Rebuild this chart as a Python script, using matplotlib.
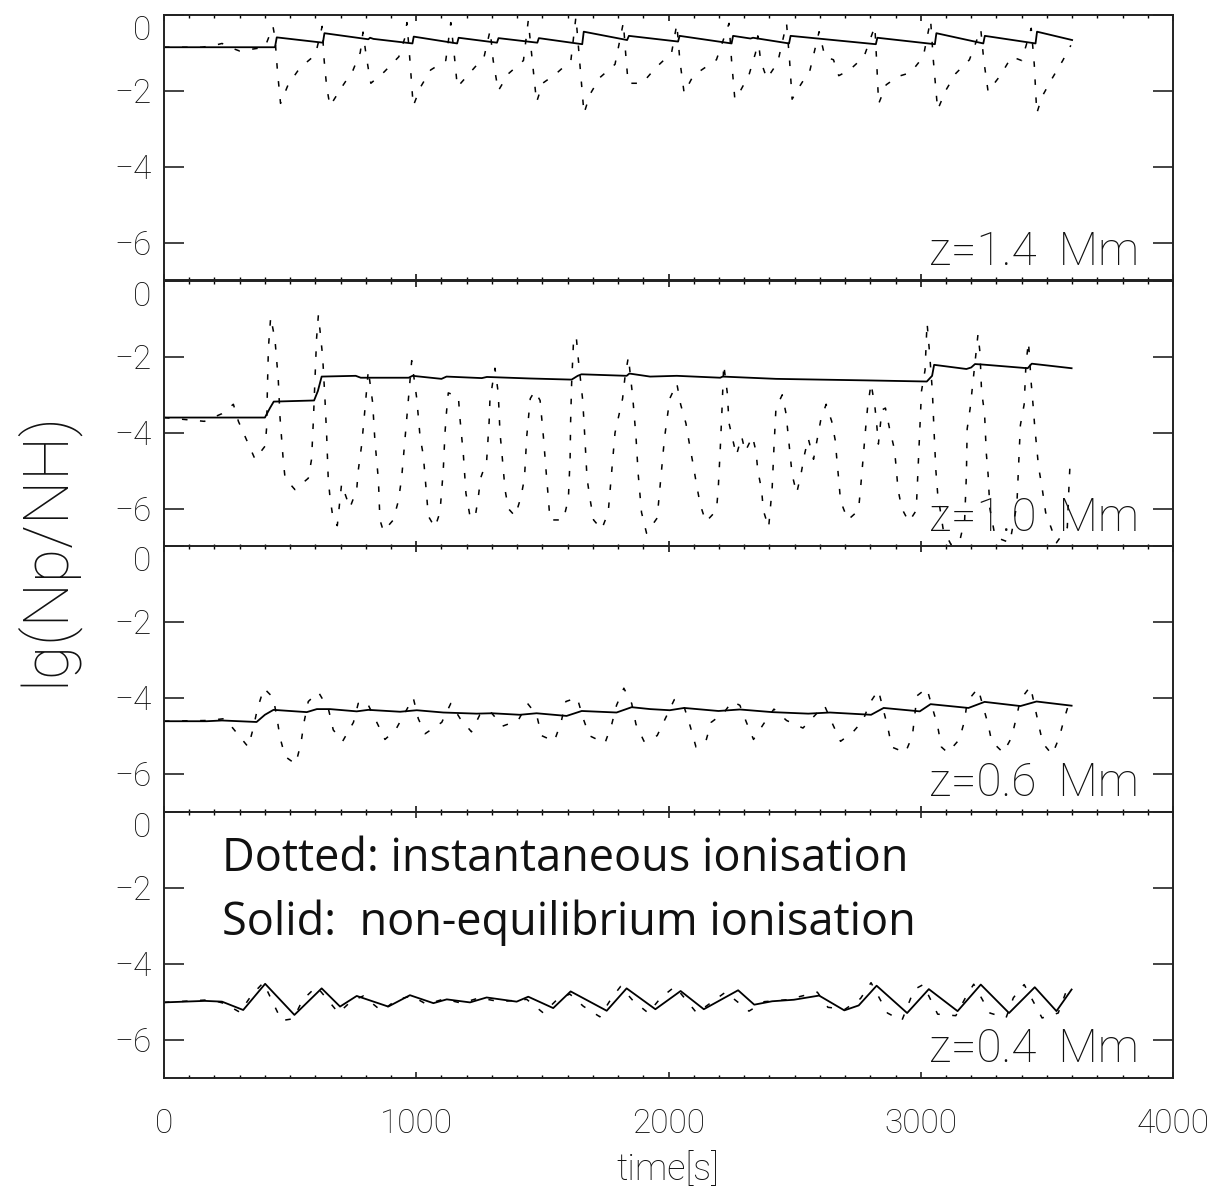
import matplotlib
matplotlib.use("Agg")
import matplotlib.pyplot as plt
from matplotlib.ticker import MultipleLocator

plt.rcParams['lines.scale_dashes'] = False

# ---------------- data ----------------
panel_labels = ["z=1.4  Mm", "z=1.0  Mm", "z=0.6  Mm", "z=0.4  Mm"]
ytick_values = [0, -2, -4, -6]
ytick_labels = ["0", "\u22122", "\u22124", "\u22126"]
xtick_values = [0, 1000, 2000, 3000, 4000]
xtick_labels = ["0", "1000", "2000", "3000", "4000"]

# z = 1.4 Mm
t_sol_14 = [0, 440, 447, 630, 636, 810, 817, 830, 985, 990, 1162, 1168, 1320, 1326, 1480, 1486,
            1658, 1664, 1836, 1843, 2038, 2044, 2250, 2256, 2325, 2335, 2478, 2484, 2822, 2828,
            3056, 3062, 3248, 3254, 3455, 3461, 3600]
y_sol_14 = [-0.85, -0.85, -0.59, -0.73, -0.48, -0.64, -0.6, -0.63, -0.75, -0.57, -0.75, -0.6, -0.73, -0.61,
            -0.73, -0.61, -0.77, -0.44, -0.66, -0.55, -0.7, -0.55, -0.75, -0.55, -0.62, -0.6, -0.75, -0.55,
            -0.77, -0.6, -0.77, -0.48, -0.75, -0.55, -0.75, -0.44, -0.66]
t_dot_14 = [0, 150, 200, 230, 260, 300, 350, 400, 432, 440, 450, 462, 492, 538, 600, 620, 627, 635, 645,
            658, 705, 749, 778, 789, 800, 812, 820, 873, 931, 955, 963, 975, 988, 1017, 1057, 1117, 1137,
            1150, 1163, 1216, 1269, 1293, 1305, 1325, 1365, 1425, 1444, 1460, 1477, 1501, 1554, 1613, 1633,
            1645, 1665, 1688, 1728, 1788, 1821, 1830, 1840, 1896, 1948, 2012, 2033, 2045, 2062, 2098, 2190,
            2240, 2250, 2263, 2280, 2319, 2345, 2354, 2365, 2390, 2433, 2468, 2480, 2490, 2518, 2561, 2597,
            2620, 2654, 2675, 2718, 2775, 2818, 2825, 2833, 2863, 2910, 2960, 3010, 3039, 3050, 3067, 3099,
            3139, 3193, 3238, 3250, 3267, 3317, 3360, 3400, 3438, 3450, 3460, 3481, 3521, 3563, 3595]
y_dot_14 = [-0.85, -0.85, -0.8, -0.75, -0.85, -0.95, -0.9, -0.85, -0.3, -0.6, -1.5, -2.33, -1.84, -1.4, -1.05,
            -0.5, -0.3, -1.2, -1.9, -2.4, -1.9, -1.46, -0.99, -0.45, -1.0, -1.5, -1.8, -1.5, -1.1, -0.6, -0.2,
            -1.2, -2.4, -1.9, -1.45, -1.2, -0.2, -1.0, -1.9, -1.5, -1.1, -0.4, -1.2, -2.0, -1.55, -1.2, -0.15,
            -1.2, -2.3, -1.8, -1.55, -1.2, -0.05, -1.0, -2.6, -2.1, -1.65, -1.3, -0.2, -1.0, -1.8, -1.8, -1.4,
            -1.0, -0.24, -1.2, -2.06, -1.6, -1.18, -0.22, -1.2, -2.22, -2.06, -1.58, -1.0, -0.55, -1.2, -1.68,
            -1.25, -0.22, -1.2, -2.22, -1.9, -1.45, -0.44, -1.1, -1.18, -1.6, -1.45, -1.1, -0.3, -1.2, -2.34,
            -1.84, -1.62, -1.52, -1.1, -0.13, -1.2, -2.5, -1.99, -1.54, -1.18, -0.38, -1.2, -2.02, -1.58, -1.1,
            -1.2, -0.35, -1.3, -2.59, -2.15, -1.67, -1.2, -0.8]

# z = 1.0 Mm
t_sol_10 = [0, 400, 420, 435, 595, 610, 625, 760, 780, 970, 985, 1100, 1120, 1260, 1280, 1450, 1616, 1640,
            1655, 1834, 1845, 1927, 2033, 2205, 2215, 2426, 2600, 2782, 3024, 3045, 3053, 3181, 3200, 3215,
            3240, 3424, 3440, 3598]
y_sol_10 = [-3.6, -3.6, -3.35, -3.18, -3.15, -2.9, -2.52, -2.5, -2.55, -2.55, -2.5, -2.58, -2.52, -2.56, -2.53,
            -2.57, -2.6, -2.5, -2.46, -2.5, -2.44, -2.52, -2.5, -2.55, -2.52, -2.58, -2.6, -2.62, -2.65, -2.5,
            -2.21, -2.32, -2.28, -2.19, -2.2, -2.3, -2.18, -2.3]
t_dot_10 = [0, 160, 229, 275, 295, 328, 361, 401, 407, 410, 414, 423, 440, 447, 453, 460, 467, 473, 480, 519,
            572, 585, 592, 599, 605, 612, 620, 629, 638, 645, 651, 658, 671, 687, 704, 737, 764, 770, 784, 797,
            810, 827, 836, 850, 856, 870, 909, 929, 942, 955, 969, 982, 1002, 1015, 1028, 1041, 1048, 1074,
            1094, 1107, 1114, 1120, 1127, 1167, 1173, 1187, 1197, 1213, 1233, 1246, 1255, 1279, 1289, 1292,
            1312, 1325, 1332, 1339, 1352, 1365, 1392, 1415, 1429, 1438, 1452, 1470, 1491, 1504, 1517, 1524,
            1530, 1583, 1603, 1610, 1612, 1616, 1623, 1634, 1643, 1660, 1669, 1677, 1689, 1703, 1735, 1761,
            1774, 1788, 1818, 1828, 1841, 1858, 1871, 1880, 1893, 1913, 1955, 1969, 1984, 2005, 2033, 2048,
            2069, 2083, 2098, 2112, 2126, 2148, 2190, 2197, 2205, 2212, 2219, 2233, 2240, 2269, 2290, 2304,
            2333, 2347, 2354, 2369, 2376, 2397, 2411, 2418, 2426, 2451, 2466, 2475, 2490, 2508, 2525, 2540,
            2554, 2575, 2604, 2625, 2647, 2661, 2668, 2675, 2682, 2711, 2753, 2761, 2768, 2775, 2782, 2789,
            2803, 2818, 2825, 2832, 2846, 2860, 2875, 2896, 2903, 2910, 2925, 2953, 2982, 2989, 2996, 3003,
            3017, 3025, 3035, 3046, 3053, 3060, 3067, 3089, 3120, 3153, 3174, 3181, 3184, 3196, 3227, 3235,
            3241, 3253, 3260, 3267, 3274, 3295, 3353, 3381, 3388, 3395, 3410, 3417, 3427, 3438, 3445, 3452,
            3460, 3467, 3481, 3495, 3538, 3581, 3588, 3592]
y_dot_10 = [-3.6, -3.7, -3.5, -3.25, -3.7, -4.2, -4.7, -4.35, -3.85, -2.8, -1.75, -0.95, -1.55, -2.1, -2.6,
            -3.6, -4.2, -4.75, -5.2, -5.5, -5.2, -4.7, -3.7, -2.5, -1.5, -0.9, -1.4, -2.0, -3.1, -4.1, -5.2,
            -5.7, -6.3, -6.45, -5.35, -5.98, -5.5, -5.0, -4.3, -3.35, -2.35, -3.2, -4.2, -5.25, -6.3, -6.6,
            -6.3, -5.8, -5.2, -4.2, -3.15, -2.1, -3.1, -4.1, -4.6, -5.65, -6.2, -6.5, -6.1, -5.0, -4.0, -3.45,
            -2.95, -3.05, -3.6, -4.6, -5.6, -6.2, -6.25, -5.7, -5.2, -4.75, -3.7, -3.15, -2.3, -2.95, -4.0,
            -4.5, -5.5, -6.0, -6.2, -5.7, -5.2, -4.1, -3.1, -2.9, -3.15, -4.1, -5.2, -5.75, -6.3, -6.3, -5.75,
            -4.65, -3.7, -2.7, -1.65, -1.45, -2.1, -3.15, -4.2, -5.2, -5.75, -6.3, -6.55, -6.1, -5.1, -4.0,
            -3.1, -2.5, -2.0, -3.05, -4.1, -5.1, -6.1, -6.65, -6.25, -5.25, -4.15, -3.1, -2.7, -3.25, -3.75,
            -4.3, -4.85, -5.4, -5.9, -6.35, -6.05, -5.5, -4.45, -3.4, -2.2, -2.95, -3.75, -4.6, -4.1, -4.5,
            -4.1, -4.5, -5.0, -5.5, -6.05, -6.5, -5.45, -4.4, -3.35, -3.0, -3.5, -4.1, -5.1, -5.6, -5.1, -4.55,
            -4.15, -4.7, -3.65, -3.25, -3.7, -4.2, -4.75, -5.25, -5.8, -6.3, -6.05, -5.5, -4.95, -4.4, -3.85,
            -3.35, -2.7, -3.3, -3.75, -4.3, -3.4, -3.35, -3.85, -4.45, -4.95, -5.5, -6.0, -6.35, -6.05, -5.0,
            -3.95, -2.9, -2.35, -1.1, -1.9, -2.9, -4.0, -5.0, -5.6, -6.55, -6.95, -6.9, -6.3, -5.1, -3.9,
            -3.35, -1.4, -1.9, -2.9, -3.5, -4.55, -5.1, -6.0, -6.75, -6.9, -5.9, -4.85, -3.8, -3.25, -2.2,
            -1.6, -2.7, -3.25, -3.85, -4.4, -4.9, -5.45, -6.1, -6.9, -6.5, -5.35, -4.8]

# z = 0.6 Mm
t_sol_06 = [0, 169, 230, 367, 400, 434, 566, 606, 658, 764, 810, 936, 1002, 1107, 1239, 1300, 1411, 1477,
            1596, 1656, 1794, 1854, 1927, 2005, 2062, 2198, 2283, 2411, 2554, 2640, 2803, 2853, 2996, 3039,
            3189, 3253, 3395, 3459, 3598]
y_sol_06 = [-4.62, -4.62, -4.6, -4.64, -4.45, -4.32, -4.38, -4.3, -4.3, -4.36, -4.32, -4.37, -4.33, -4.39,
            -4.42, -4.41, -4.45, -4.41, -4.48, -4.35, -4.39, -4.25, -4.3, -4.33, -4.27, -4.35, -4.31, -4.38,
            -4.42, -4.39, -4.45, -4.27, -4.36, -4.17, -4.27, -4.11, -4.22, -4.1, -4.21]
t_dot_06 = [0, 176, 242, 291, 334, 354, 370, 396, 433, 447, 460, 480, 522, 543, 555, 572, 612, 652, 671, 708,
            751, 770, 803, 840, 876, 918, 988, 1008, 1035, 1101, 1137, 1174, 1219, 1252, 1292, 1342, 1404,
            1441, 1477, 1497, 1547, 1574, 1593, 1638, 1662, 1686, 1748, 1775, 1794, 1823, 1854, 1871, 1903,
            1955, 1991, 2023, 2060, 2086, 2109, 2148, 2169, 2219, 2252, 2283, 2309, 2337, 2376, 2418, 2468,
            2533, 2618, 2651, 2682, 2732, 2771, 2797, 2832, 2870, 2885, 2939, 2967, 2985, 3024, 3067, 3082,
            3107, 3153, 3174, 3184, 3227, 3267, 3281, 3327, 3360, 3378, 3395, 3435, 3467, 3484, 3521, 3549,
            3569, 3592]
y_dot_06 = [-4.62, -4.6, -4.55, -4.95, -5.3, -4.8, -4.3, -3.75, -4.0, -4.5, -5.05, -5.55, -5.75, -5.2, -4.65,
            -4.1, -3.85, -4.3, -4.85, -5.15, -4.65, -4.15, -4.1, -4.6, -5.1, -4.85, -4.0, -4.55, -4.95, -4.65,
            -4.15, -4.55, -4.9, -4.45, -4.35, -4.75, -4.6, -4.15, -4.45, -5.0, -5.15, -4.65, -4.1, -4.0,
            -4.55, -5.0, -5.2, -4.7, -4.2, -3.75, -4.15, -4.7, -5.15, -5.0, -4.5, -4.05, -4.2, -4.75, -5.3,
            -5.15, -4.65, -4.4, -4.1, -4.2, -4.65, -5.1, -4.7, -4.3, -4.6, -4.8, -4.2, -4.7, -5.15, -4.9,
            -4.6, -4.15, -3.8, -4.8, -5.3, -5.45, -5.0, -3.95, -3.75, -4.75, -5.3, -5.45, -5.1, -4.6, -4.1,
            -3.75, -4.7, -5.15, -5.45, -5.05, -4.55, -4.05, -3.7, -4.7, -5.2, -5.5, -5.05, -4.55, -4.05]

# z = 0.4 Mm
t_sol_04 = [0, 162, 230, 314, 401, 517, 625, 698, 764, 889, 975, 1068, 1121, 1213, 1279, 1398, 1444, 1543,
            1612, 1755, 1834, 1948, 2048, 2140, 2276, 2340, 2411, 2497, 2597, 2697, 2754, 2825, 2946, 3032,
            3146, 3238, 3350, 3452, 3538, 3598]
y_sol_04 = [-5.02, -4.98, -5.0, -5.22, -4.53, -5.35, -4.65, -5.13, -4.85, -5.13, -4.83, -5.04, -4.94, -5.02,
            -4.89, -5.0, -4.87, -5.17, -4.73, -5.24, -4.65, -5.2, -4.72, -5.2, -4.7, -5.08, -4.99, -4.95, -4.84,
            -5.23, -5.1, -4.58, -5.3, -4.67, -5.25, -4.55, -5.3, -4.62, -5.25, -4.68]
t_dot_04 = [0, 187, 240, 301, 348, 394, 466, 513, 550, 605, 692, 740, 790, 863, 922, 982, 1041, 1110, 1180,
            1250, 1330, 1438, 1504, 1556, 1609, 1662, 1728, 1774, 1810, 1860, 1920, 1969, 2026, 2069, 2112,
            2226, 2319, 2380, 2470, 2590, 2632, 2700, 2761, 2803, 2868, 2925, 2974, 3010, 3067, 3139, 3181,
            3210, 3274, 3338, 3367, 3410, 3481, 3545, 3581, 3595]
y_dot_04 = [-5.02, -4.95, -5.05, -5.28, -4.82, -4.5, -5.5, -5.45, -4.95, -4.6, -5.3, -5.0, -4.85, -5.25, -4.95,
            -4.85, -5.07, -4.93, -5.04, -4.9, -5.0, -4.94, -5.3, -4.96, -4.8, -5.12, -5.4, -4.91, -4.6, -4.98,
            -5.3, -4.9, -4.6, -4.95, -5.3, -4.75, -5.25, -5.0, -4.95, -4.75, -5.15, -5.2, -4.92, -4.5, -5.3,
            -5.5, -4.68, -4.55, -5.33, -5.37, -4.85, -4.54, -5.3, -5.43, -4.9, -4.55, -5.43, -5.3, -4.65, -4.5]

solid_t = [t_sol_14, t_sol_10, t_sol_06, t_sol_04]
solid_y = [y_sol_14, y_sol_10, y_sol_06, y_sol_04]
dot_t = [t_dot_14, t_dot_10, t_dot_06, t_dot_04]
dot_y = [y_dot_14, y_dot_10, y_dot_06, y_dot_04]

legend_lines = ["Dotted: instantaneous ionisation", "Solid:  non-equilibrium ionisation"]

# ---------------- figure ----------------
W, H = 1214, 1192
fig = plt.figure(figsize=(W / 100, H / 100), dpi=100)

THIN = dict(family=["Roboto", "DejaVu Sans"], weight="light")
TXT = "#111111"

left_px, right_px = 164, 1173
tops = [15, 281, 546, 812]
ph = 265.5

axes = []
for i in range(4):
    top = tops[i]
    ax = fig.add_axes([left_px / W, 1 - (top + ph) / H, (right_px - left_px) / W, ph / H])
    axes.append(ax)
    ax.plot(dot_t[i], dot_y[i], color="black", lw=1.1, linestyle=(0, (4, 9)))
    ax.plot(solid_t[i], solid_y[i], color="black", lw=1.3)
    ax.set_xlim(0, 4000)
    ax.set_ylim(-7, 0)
    for s in ax.spines.values():
        s.set_linewidth(1.4)
        s.set_color("#222222")
    ax.xaxis.set_major_locator(MultipleLocator(1000))
    ax.xaxis.set_minor_locator(MultipleLocator(100))
    ax.set_yticks(ytick_values)
    ax.tick_params(axis="y", which="major", direction="in", length=14.5, width=1.1,
                   left=True, right=True, labelleft=True, pad=9, labelsize=24, colors=TXT)
    ax.tick_params(axis="x", which="major", direction="in", length=4.5, width=1.1,
                   top=True, bottom=True)
    ax.tick_params(axis="x", which="minor", direction="in", length=2.5, width=1.0,
                   top=True, bottom=True)
    ax.set_yticklabels(ytick_labels)
    for lab in ax.get_yticklabels():
        lab.set_fontfamily(THIN["family"])
        lab.set_fontweight("light")
        if lab.get_text() == "0":
            lab.set_verticalalignment("top")
    if i < 3:
        ax.tick_params(axis="x", labelbottom=False)
    else:
        ax.set_xticks(xtick_values)
        ax.set_xticklabels(xtick_labels)
        ax.tick_params(axis="x", which="major", pad=22, labelsize=24, colors=TXT)
        for lab in ax.get_xticklabels():
            lab.set_fontfamily(THIN["family"])
            lab.set_fontweight("light")
    ax.text(0.966, 0.06, panel_labels[i], transform=ax.transAxes, ha="right", va="baseline",
            fontsize=33, color=TXT, **THIN)

# legend text in bottom panel
ax4 = axes[3]
ax4.text(0.0575, 0.776, legend_lines[0], transform=ax4.transAxes, ha="left", va="baseline",
         fontsize=32.5, color="#111111", family=["Open Sans", "DejaVu Sans"])
ax4.text(0.0575, 0.535, legend_lines[1], transform=ax4.transAxes, ha="left", va="baseline",
         fontsize=32.5, color="#111111", family=["Open Sans", "DejaVu Sans"])

fig.text(668 / W, 1 - 1170 / H, "time[s]", ha="center", va="center", fontsize=26, color=TXT, **THIN)
fig.text(45 / W, 1 - 548 / H, "lg(Np/NH)", ha="center", va="center", rotation=90,
         fontsize=45, color=TXT, **THIN)

fig.savefig("out.png", dpi=100)
